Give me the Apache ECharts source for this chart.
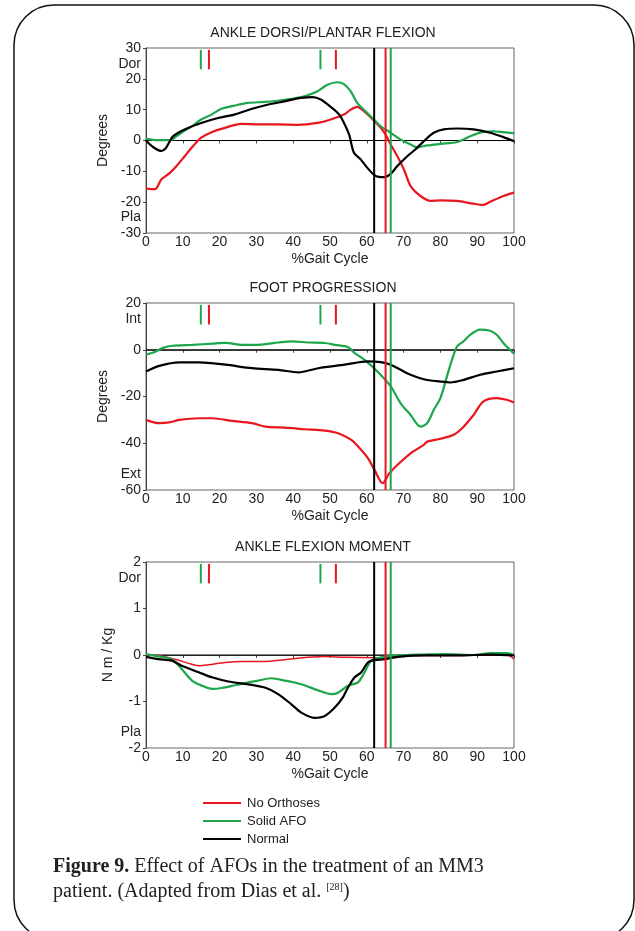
<!DOCTYPE html>
<html>
<head>
<meta charset="UTF-8">
<title>Figure 9 - Effect of AFOs</title>
<script src="https://cdn.jsdelivr.net/npm/echarts@6/dist/echarts.min.js"></script>
<style>
    html, body { margin: 0; padding: 0; background: #fff; }
    #fig { width: 635px; height: 931px; }
</style>
</head>
<body>
<div id="fig"></div>
<script type="text/javascript">
    // ---- data: [ %gait cycle, value ] ----
    var ankleNoOrth = [[0,-15.6],[2.4,-15.8],[4.2,-12.6],[6.5,-10.5],[8.3,-8.3],[10.5,-5.1],[12.8,-1.8],[15,0.9],[17.8,2.7],[21.4,4.1],[25.9,5.4],[30.4,5.2],[35.8,5.2],[41.2,5.1],[46.6,5.7],[50.2,6.8],[53.8,8.4],[55.6,10],[57.4,10.9],[59.2,9.5],[61.9,6.5],[63.8,4.1],[65.1,1.9],[66.5,-1.3],[68.3,-5.1],[70.1,-9.4],[71.9,-14.8],[74.6,-18],[77.3,-19.6],[80,-19.4],[84.5,-19.6],[89,-20.5],[91.7,-20.9],[93.5,-19.9],[97.1,-18],[100,-16.9]];
    var ankleAFO = [[0,0.5],[3.3,0.1],[6.5,0.1],[8.3,1.4],[10.5,3.2],[12.4,4.6],[15,6.8],[17.8,8.4],[20.5,10.3],[24,11.3],[27.7,12.2],[32.2,12.5],[35.8,12.9],[39.4,13.5],[43,14.3],[46.6,16],[49.3,18.1],[52,18.9],[53.8,18.3],[55.6,16],[57.4,12.2],[59.2,10],[61.9,6.8],[63.8,4.6],[66.5,2.5],[69.2,0.3],[71.9,-1.3],[73.7,-2.2],[76.4,-1.6],[80,-1.1],[84.5,-0.5],[88.1,1.4],[91.7,2.8],[94.4,3.0],[97.1,2.7],[100,2.3]];
    var ankleNormal = [[0,0],[2,-2.2],[4.2,-3.4],[5.3,-2.6],[6.2,-0.8],[7.4,1.4],[10.5,3.6],[15,5.7],[19.6,7.3],[24,8.4],[28.6,10.2],[33,11.6],[37.6,12.7],[42.1,13.8],[45.3,14.1],[47.5,13.3],[50.2,10.9],[52.5,8.4],[53.8,5.7],[55.2,1.9],[56.5,-4],[58.3,-6.1],[60.1,-8.8],[62.4,-11.5],[64.7,-11.9],[66.5,-10.8],[68.3,-8.3],[71,-5.1],[73.2,-2.9],[75.5,-0.2],[78.2,2.5],[80.9,3.6],[84.5,3.9],[89,3.6],[93.5,2.5],[97.1,1.1],[100,-0.2]];

    var footNoOrth = [[0,-30],[3.6,-31.4],[6.3,-31.1],[9,-30],[14.4,-29.3],[18,-29.3],[23.4,-30.4],[28.8,-31.4],[32.4,-32.9],[37.8,-33.3],[43.2,-34],[48.6,-34.6],[52.2,-35.7],[55.8,-38.6],[58.5,-42.9],[60.3,-46.4],[62.1,-51.4],[64.3,-57.1],[66.1,-52.9],[68.3,-49.3],[71.9,-44.3],[75.5,-40.7],[76.4,-39.3],[80,-38.1],[83.6,-36.4],[86.3,-32.9],[89,-27.9],[91.7,-22.1],[95.3,-20.7],[98,-21.4],[100,-22.6]];
    var footAFO = [[0,-2.1],[2.2,-1.1],[4.5,0.7],[7.2,1.7],[12.6,2.1],[18,2.6],[21.6,2.9],[26.1,2.1],[30.6,2.1],[36,3.1],[39.6,3.6],[44.1,3.1],[48.6,2.9],[51.3,2.1],[54.9,1.1],[56.7,-1.4],[59.4,-4.3],[62.9,-9.3],[66.5,-15.7],[69.2,-22.9],[71.9,-27.9],[74.6,-32.9],[76.4,-31.4],[78.2,-25.7],[80,-20.7],[82.3,-8.6],[84.5,1.4],[86.3,3.6],[88.1,6.4],[90.8,8.6],[93.5,8.1],[95.3,6.4],[97.1,2.9],[100,-1.7]];
    var footNormal = [[0,-9.3],[3.6,-6.9],[9,-5.4],[14.4,-5.4],[21.6,-6.4],[28.8,-7.9],[36,-8.6],[41.4,-9.7],[46.8,-7.9],[54,-6.4],[60.3,-5],[63.8,-5.3],[66.5,-6.4],[69.2,-8.6],[71.9,-10.7],[75.5,-12.6],[80,-13.6],[82.7,-14],[86.3,-12.9],[90.8,-10.7],[95.3,-9.3],[100,-7.9]];

    var momentNoOrth = [[0,0],[3.4,-0.01],[7.9,-0.09],[11.6,-0.18],[14.3,-0.23],[17,-0.21],[21.5,-0.16],[26,-0.14],[32.3,-0.14],[37.7,-0.1],[44,-0.05],[48.6,-0.03],[54,-0.05],[62.1,-0.06],[66.6,-0.04],[75.6,-0.01],[84.7,-0.01],[93.7,0],[98.2,0],[100,-0.09]];
    var momentAFO = [[0,0.02],[3.4,-0.03],[7,-0.09],[9.7,-0.3],[12.5,-0.55],[15.2,-0.66],[17.9,-0.73],[20.6,-0.71],[24.2,-0.65],[27.8,-0.59],[30.5,-0.55],[34.1,-0.5],[37.7,-0.55],[42.2,-0.63],[46.8,-0.76],[50.4,-0.84],[52.2,-0.81],[54.9,-0.66],[57.6,-0.59],[59.4,-0.37],[61.2,-0.12],[63.9,-0.05],[68.4,-0.01],[75.6,0.01],[81.1,0.02],[89.2,0],[93.7,0.04],[98.2,0.04],[100,0]];
    var momentNormal = [[0,-0.04],[3.4,-0.09],[7,-0.12],[9.7,-0.23],[14.3,-0.37],[17.9,-0.48],[22.4,-0.57],[27.8,-0.63],[32.3,-0.7],[35.9,-0.84],[39.5,-1.06],[42.2,-1.24],[45.8,-1.35],[48.6,-1.31],[51.3,-1.13],[53.5,-0.91],[54.9,-0.7],[56.7,-0.48],[58.5,-0.37],[60.3,-0.16],[62.1,-0.11],[64.8,-0.09],[68.4,-0.04],[75.6,-0.01],[84.7,-0.01],[93.7,0.01],[100,-0.01]];

    // gait events (% cycle): short marks at top, full-height toe-off lines
    var markGreen = [14.9, 47.4];
    var markRed = [17.1, 51.6];
    var toeOffNormal = 62.0;
    var toeOffRed = 65.1;
    var toeOffGreen = 66.5;

    var titles = ['ANKLE DORSI/PLANTAR FLEXION', 'FOOT PROGRESSION', 'ANKLE FLEXION MOMENT'];
    var yNames = ['Degrees', 'Degrees', 'N m / Kg'];
    var yMin = [-30, -60, -2];
    var yMax = [30, 20, 2];
    var yStep = [10, 20, 1];
    var sideTop = ['Dor', 'Int', 'Dor'];
    var sideBottom = ['Pla', 'Ext', 'Pla'];
    var seriesNames = ['No Orthoses', 'Solid AFO', 'Normal'];
    var chartData = [
        [ankleNoOrth, ankleAFO, ankleNormal],
        [footNoOrth, footAFO, footNormal],
        [momentNoOrth, momentAFO, momentNormal]
    ];

    // ---- layout ----
    var RED = '#e8161e', GREEN = '#1da64b', BLACK = '#000000';
    var colors = [RED, GREEN, BLACK];
    var gridTop = [48, 303, 562];
    var gridH = [185, 187, 186];
    var gridLeft = 146, gridW = 368;
    var FONT = '"Liberation Sans", Arial, sans-serif';

    var grids = [], xAxes = [], yAxes = [], series = [], titleList = [], graphics = [];

    function segment(i, x, y0, y1, color, z) {
        series.push({
            type: 'line', xAxisIndex: i, yAxisIndex: i,
            data: [[x, y0], [x, y1]],
            symbol: 'none', silent: true, z: z,
            lineStyle: { color: color, width: 2 }
        });
    }

    for (var i = 0; i < 3; i++) {
        var range = yMax[i] - yMin[i];
        grids.push({
            left: gridLeft, top: gridTop[i], width: gridW, height: gridH[i],
            show: true, borderColor: '#666', borderWidth: 1
        });
        xAxes.push({
            gridIndex: i, type: 'value', min: 0, max: 100, interval: 10,
            name: '%Gait Cycle', nameLocation: 'middle', nameGap: 19,
            nameTextStyle: { fontFamily: FONT, fontSize: 14, color: '#222' },
            axisLine: { show: true, lineStyle: { color: '#444', width: 1 } },
            axisTick: { show: true, length: 3, lineStyle: { color: '#444' } },
            axisLabel: { margin: 2, fontFamily: FONT, fontSize: 14, color: '#222' },
            splitLine: { show: false }
        });
        yAxes.push({
            gridIndex: i, type: 'value', min: yMin[i], max: yMax[i], interval: yStep[i],
            name: yNames[i], nameLocation: 'middle', nameGap: 31, nameRotate: 90,
            nameTextStyle: { fontFamily: FONT, fontSize: 14, color: '#222' },
            axisLine: { show: true, lineStyle: { color: '#444', width: 1 } },
            axisTick: { show: true, length: 3, lineStyle: { color: '#444' } },
            axisLabel: { margin: 5, fontFamily: FONT, fontSize: 14, color: '#222' },
            splitLine: { show: false }
        });
        titleList.push({
            text: titles[i], left: 318, top: gridTop[i] - 27, textAlign: 'center',
            textStyle: { fontFamily: FONT, fontSize: 14, fontWeight: 'normal', color: '#222' }
        });
        graphics.push({
            type: 'text', x: 141, y: gridTop[i] + 0.085 * gridH[i],
            style: { text: sideTop[i], font: '14px ' + FONT, fill: '#222', align: 'right', verticalAlign: 'middle' }
        });
        graphics.push({
            type: 'text', x: 141, y: gridTop[i] + 0.915 * gridH[i],
            style: { text: sideBottom[i], font: '14px ' + FONT, fill: '#222', align: 'right', verticalAlign: 'middle' }
        });

        // zero line
        series.push({
            type: 'line', xAxisIndex: i, yAxisIndex: i, data: [[0, 0], [100, 0]],
            symbol: 'none', silent: true, z: 1, lineStyle: { color: '#000', width: 1 }
        });

        // curves
        for (var k = 0; k < 3; k++) {
            series.push({
                name: seriesNames[k], type: 'line', xAxisIndex: i, yAxisIndex: i,
                data: chartData[i][k], symbol: 'none', smooth: 0.3, z: 2,
                color: colors[k],
                lineStyle: { color: colors[k], width: (i == 2 && k == 0) ? 1.5 : 2.2 }
            });
        }

        // event markers
        var tTop = yMax[i] - 0.01 * range, tBot = yMax[i] - 0.115 * range;
        markGreen.forEach(function (x) { segment(i, x, tTop, tBot, GREEN, 3); });
        markRed.forEach(function (x) { segment(i, x, tTop, tBot, RED, 3); });
        segment(i, toeOffNormal, yMax[i], yMin[i], BLACK, 4);
        segment(i, toeOffRed, yMax[i], yMin[i], RED, 4);
        segment(i, toeOffGreen, yMax[i], yMin[i], GREEN, 4);
    }

    // rounded frame
    graphics.push({
        type: 'rect', shape: { x: 14, y: 5, width: 620, height: 935, r: 40 },
        style: { fill: 'none', stroke: '#111', lineWidth: 1.5 }, silent: true
    });
    // caption
    graphics.push({
        type: 'text', x: 53, y: 867,
        style: {
            text: '{b|Figure 9.} Effect of AFOs in the treatment of an MM3',
            font: '20px "Liberation Serif", serif', fill: '#222', verticalAlign: 'middle',
            rich: { b: { font: 'bold 20px "Liberation Serif", serif', fill: '#222' } }
        }
    });
    graphics.push({
        type: 'text', x: 53, y: 892,
        style: {
            text: 'patient. (Adapted from Dias et al. {s|[28]})',
            font: '20px "Liberation Serif", serif', fill: '#222', verticalAlign: 'middle',
            rich: { s: { font: '10px "Liberation Serif", serif', fill: '#222', verticalAlign: 'top', lineHeight: 20 } }
        }
    });

    var option = {
        backgroundColor: '#fff',
        animation: false,
        title: titleList,
        legend: {
            data: seriesNames, orient: 'vertical', left: 198, top: 791,
            icon: 'rect', itemWidth: 38, itemHeight: 2, itemGap: 4,
            textStyle: { fontFamily: FONT, fontSize: 13, color: '#222', lineHeight: 14, padding: [0, 0, 0, 1] }
        },
        grid: grids,
        xAxis: xAxes,
        yAxis: yAxes,
        series: series,
        graphic: graphics
    };
    echarts.init(document.getElementById('fig')).setOption(option);
</script>
</body>
</html>
